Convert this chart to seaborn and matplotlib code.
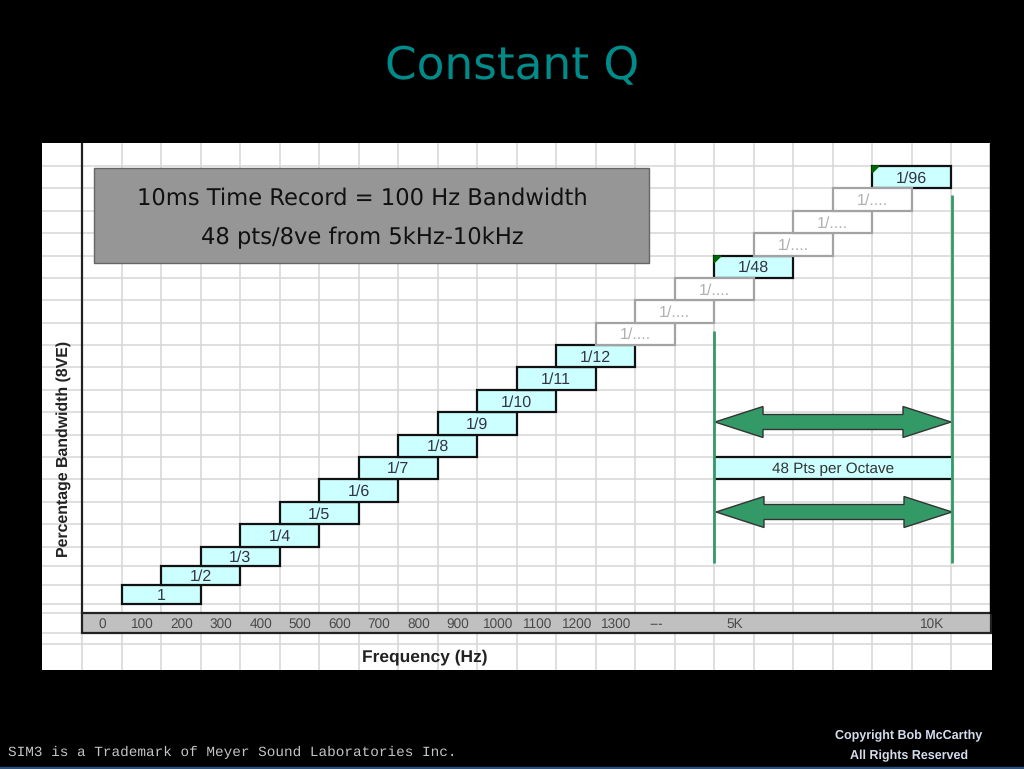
import numpy as np
import pandas as pd
import matplotlib
matplotlib.use("Agg")
import matplotlib.pyplot as plt
from matplotlib.patches import Polygon, Rectangle
import seaborn as sns

# data
bar_labels = ['1', '1/2', '1/3', '1/4', '1/5', '1/6', '1/7', '1/8', '1/9', '1/10',
              '1/11', '1/12', '1/....', '1/....', '1/....', '1/48', '1/....',
              '1/....', '1/....', '1/96']
bar_rows = list(range(20))
bar_starts = [1, 2, 3, 4, 5, 6, 7, 8, 9, 10, 11, 12, 13, 14, 15, 16, 17, 18, 19, 20]
bar_spans = [2] * 20
freq_labels = ['0', '100', '200', '300', '400', '500', '600', '700', '800', '900',
               '1000', '1100', '1200', '1300', '---', '5K', '10K']
freq_cols = [0.5, 1.5, 2.5, 3.5, 4.5, 5.5, 6.5, 7.5, 8.5, 9.5, 10.5, 11.5, 12.5,
             13.5, 14.5, 16.5, 21.5]

# layout: the source grid is not evenly spaced, so rows go through a pixel map
W, H = 1024, 769
row_edges = np.arange(-4, 22)
row_px = np.array([670, 644.5, 633.5, 613, 604.5, 585, 566, 547, 524.5, 502, 479,
                   457, 435, 412.5, 390, 367.5, 345, 323, 300.5, 278, 256, 233.5,
                   211, 188.5, 166, 143], dtype=float)
CYAN = '#ccffff'
GRID = '#d6d6d6'
GREEN = '#339966'
BASE = ['Liberation Sans', 'DejaVu Sans']

sns.set_theme(style="whitegrid", rc={'grid.color': GRID, 'grid.linewidth': 1.1})
plt.rcParams['font.family'] = BASE
plt.rcParams['text.hinting'] = 'no_hinting'
plt.rcParams['text.hinting_factor'] = 8

df = pd.DataFrame({'label': bar_labels, 'row': bar_rows, 'start': bar_starts,
                   'span': bar_spans})
df['mid'] = df['row'] + 0.5
df['open'] = df['label'] == '1/....'

fig = plt.figure(figsize=(W / 100, H / 100), dpi=100, facecolor='black')
ax = fig.add_axes([42 / W, 1 - 670 / H, 950 / W, 527 / H], facecolor='white')

# stepped bars
for is_open, part in df.groupby('open'):
    sns.barplot(data=part, x='span', y='mid', orient='y', native_scale=True,
                estimator='mean', errorbar=None, width=1, saturation=1,
                color='white' if is_open else CYAN,
                left=part['start'].to_numpy(),
                edgecolor='#a3a3a3' if is_open else '#111111',
                linewidth=1.6, ax=ax)

# 48 points band, only top and bottom edges
ax.barh(6.5, 6, height=1, left=16, color=CYAN, linewidth=0)
ax.hlines([6, 7], 16, 22, color='#111111', lw=1.6)
ax.text(19, 6.45, '48 Pts per Octave', ha='center', va='center', fontsize=11,
        color='#333333')

ax.set_yscale('function', functions=(
    lambda v: np.interp(v, row_edges, -row_px),
    lambda v: np.interp(v, -row_px, row_edges)))
ax.set_xlim(-1.012, 23.03)
ax.set_ylim(-4, 21)
ax.set_xticks(range(0, 23))
ax.set_yticks(range(-3, 21))
ax.minorticks_off()
ax.tick_params(length=0, labelbottom=False, labelleft=False)
ax.set_xlabel('')
ax.set_ylabel('')
ax.set_axisbelow(True)
ax.grid(True, color=GRID, linewidth=1.1)
for s in ax.spines.values():
    s.set_visible(False)

for _, r in df.iterrows():
    ax.text(r['start'] + r['span'] / 2, r['mid'] - 0.05, r['label'], ha='center', va='center',
            fontsize=11.5, color='#b0b0b0' if r['open'] else '#333344', zorder=5)
    if r['label'] in ('1/48', '1/96'):
        ax.add_patch(Polygon([(r['start'], r['row'] + 1), (r['start'] + 0.17, r['row'] + 1),
                              (r['start'], r['row'] + 0.7)], color='#006600', zorder=5))

# frequency strip and axis line
ax.add_patch(Rectangle((0, -2), 23, 1, facecolor='#c0c0c0', edgecolor='#222222',
                       linewidth=1.6, zorder=3, clip_on=True))
ax.plot([0, 0], [-1, 21], color='#222222', lw=1.6, zorder=4)
for col, lab in zip(freq_cols, freq_labels):
    ax.text(col + 0.02, -1.55, lab, ha='center', va='center', fontsize=9.8, color='#4a4a4a', zorder=5)
ax.text(8.68, -3.5, 'Frequency (Hz)', ha='center', va='center', fontsize=12.5,
        fontweight='bold', color='#222222')
ax.text(-0.47, 7.35, 'Percentage Bandwidth (8VE)', rotation=90, ha='center', va='center',
        fontsize=11.4, fontweight='bold', color='#222222')

# annotation layer in picture pixels
px = fig.add_axes([0, 0, 1, 1], facecolor='none')
px.set_xlim(0, W)
px.set_ylim(H, 0)
px.axis('off')


def double_arrow(x0, x1, y):
    head, outer, inner = 48, 15.5, 7.5
    pts = [(x0, y), (x0 + head, y - outer), (x0 + head, y - inner), (x1 - head, y - inner),
           (x1 - head, y - outer), (x1, y), (x1 - head, y + outer), (x1 - head, y + inner),
           (x0 + head, y + inner), (x0 + head, y + outer)]
    px.add_patch(Polygon(pts, facecolor=GREEN, edgecolor='#333333', linewidth=1))


px.add_patch(Rectangle((990, 143), 3, 470, color='black'))
px.plot([714.3, 714.3], [331, 563], color=GREEN, lw=2, solid_capstyle='butt')
px.plot([951.6, 951.6], [195, 563], color=GREEN, lw=2, solid_capstyle='butt')
double_arrow(715, 951, 422)
double_arrow(716, 952, 512)

px.add_patch(Rectangle((94, 168), 555, 95, facecolor='#969696', edgecolor='#666666', linewidth=1))
px.text(362.5, 198, '10ms Time Record = 100 Hz Bandwidth', ha='center', va='center',
        fontsize=16.25, family='DejaVu Sans', color='#111111')
px.text(362, 238, '48 pts/8ve from 5kHz-10kHz', ha='center', va='center',
        fontsize=16.25, family='DejaVu Sans', color='#111111')

px.text(512.5, 67, 'Constant Q', ha='center', va='center', fontsize=32.7,
        family='DejaVu Sans', color='#008b8b')
px.text(8, 752, 'SIM3 is a Trademark of Meyer Sound Laboratories Inc.', ha='left', va='center',
        fontsize=10.4, family='Liberation Mono', color='#c4c4c4')
px.text(909, 736, 'Copyright Bob McCarthy', ha='center', va='center', fontsize=9,
        fontweight='bold', color='#d5dcec')
px.text(909, 756, 'All Rights Reserved', ha='center', va='center', fontsize=9,
        fontweight='bold', color='#d5dcec')
px.add_patch(Rectangle((0, 767), W, 2, color='#2c4f7c'))

fig.savefig('out.png', dpi=100, facecolor='black')
